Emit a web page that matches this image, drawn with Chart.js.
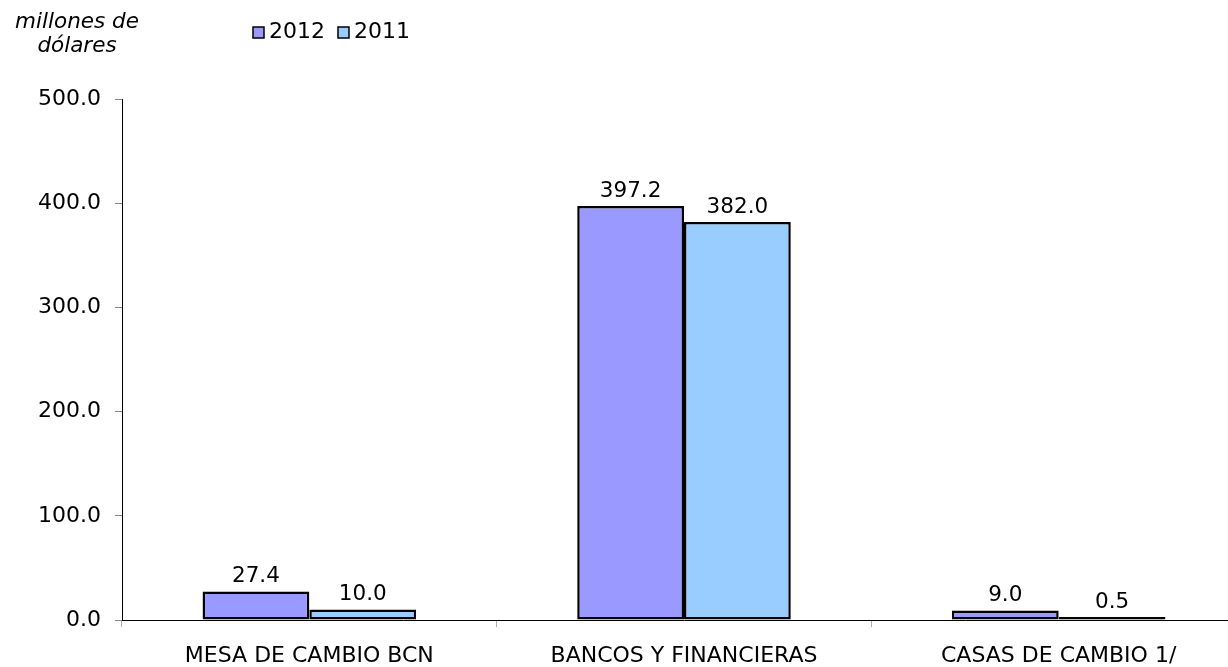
<!DOCTYPE html>
<html>
<head>
<meta charset="utf-8">
<script src="https://cdn.jsdelivr.net/npm/chart.js@4"></script>
<style>
    html, body { margin: 0; padding: 0; background: #fff; overflow: hidden; }
    #wrap { width: 1228px; height: 667px; overflow: hidden; position: relative; }
    #box { width: 1260px; height: 667px; position: absolute; left: 0; top: 0; }
</style>
</head>
<body>
<div id="wrap"><div id="box"><canvas id="barChart"></canvas></div></div>
<script>
const categories = ["MESA DE CAMBIO BCN", "BANCOS Y FINANCIERAS", "CASAS DE CAMBIO 1/"];
const values2012 = [27.4, 397.2, 9.0];
const values2011 = [10.0, 382.0, 0.5];
const seriesNames = ["2012", "2011"];
const yTicks = [0, 100, 200, 300, 400, 500];
const unitLabel = ["millones de", "dólares"];

const font = "DejaVu Sans, Verdana, sans-serif";
const colors = ["#9999FF", "#99CCFF"];

// etiquetas de valor encima de cada barra
const valueLabels = {
    id: "valueLabels",
    afterDatasetsDraw(chart) {
        const c = chart.ctx;
        c.save();
        c.font = "21.5px " + font;
        c.fillStyle = "#000";
        c.textAlign = "center";
        c.textBaseline = "middle";
        chart.data.datasets.forEach((ds, i) => {
            chart.getDatasetMeta(i).data.forEach((bar, j) => {
                c.fillText(ds.data[j].toFixed(1), bar.x, bar.y - 15);
            });
        });
        c.restore();
    },
};

// titulo de unidades y leyenda arriba
const headerText = {
    id: "headerText",
    afterDraw(chart) {
        const c = chart.ctx;
        c.save();
        c.fillStyle = "#000";
        c.font = "italic 21.5px " + font;
        c.textAlign = "center";
        c.textBaseline = "middle";
        c.fillText(unitLabel[0], 77, 22);
        c.fillText(unitLabel[1], 77, 46);

        c.font = "22px " + font;
        c.textAlign = "left";
        let x = 253;
        seriesNames.forEach((name, i) => {
            c.fillStyle = colors[i];
            c.fillRect(x, 27, 11, 11);
            c.strokeStyle = "#000";
            c.lineWidth = 1.5;
            c.strokeRect(x, 27, 11, 11);
            c.fillStyle = "#000";
            c.fillText(name, x + 16, 32);
            x += c.measureText(name).width + 29;
        });
        c.restore();
    },
};

new Chart(document.getElementById("barChart"), {
    type: "bar",
    data: {
        labels: categories,
        datasets: [
            {
                label: seriesNames[0],
                data: values2012,
                backgroundColor: colors[0],
                borderColor: "#000",
                borderWidth: 2.5,
                borderSkipped: false,
                minBarLength: 3,
            },
            {
                label: seriesNames[1],
                data: values2011,
                backgroundColor: colors[1],
                borderColor: "#000",
                borderWidth: 2.5,
                borderSkipped: false,
                minBarLength: 3,
            },
        ],
    },
    options: {
        responsive: true,
        maintainAspectRatio: false,
        animation: false,
        categoryPercentage: 0.57,
        barPercentage: 1.0,
        layout: {
            padding: { top: 99, right: 14, bottom: 0, left: 0 },
        },
        plugins: {
            legend: { display: false },
            tooltip: { enabled: false },
        },
        scales: {
            x: {
                afterFit: (scale) => {
                    scale.height = 47;
                },
                grid: {
                    drawOnChartArea: false,
                    drawTicks: true,
                    tickLength: 7,
                    color: "#aaa",
                },
                border: { color: "#000", width: 1 },
                ticks: {
                    color: "#000",
                    padding: 16,
                    maxRotation: 0,
                    font: { family: font, size: 22 },
                },
            },
            y: {
                min: 0,
                max: 500,
                afterFit: (scale) => {
                    scale.width = 122;
                },
                afterBuildTicks: (scale) => {
                    scale.ticks = yTicks.map((v) => ({ value: v }));
                },
                grid: {
                    drawOnChartArea: false,
                    drawTicks: true,
                    tickLength: 7,
                    color: "#888",
                },
                border: { color: "#000", width: 1 },
                ticks: {
                    color: "#000",
                    padding: 14,
                    font: { family: font, size: 22 },
                    callback: (v) => Number(v).toFixed(1),
                },
            },
        },
    },
    plugins: [valueLabels, headerText],
});
</script>
</body>
</html>
